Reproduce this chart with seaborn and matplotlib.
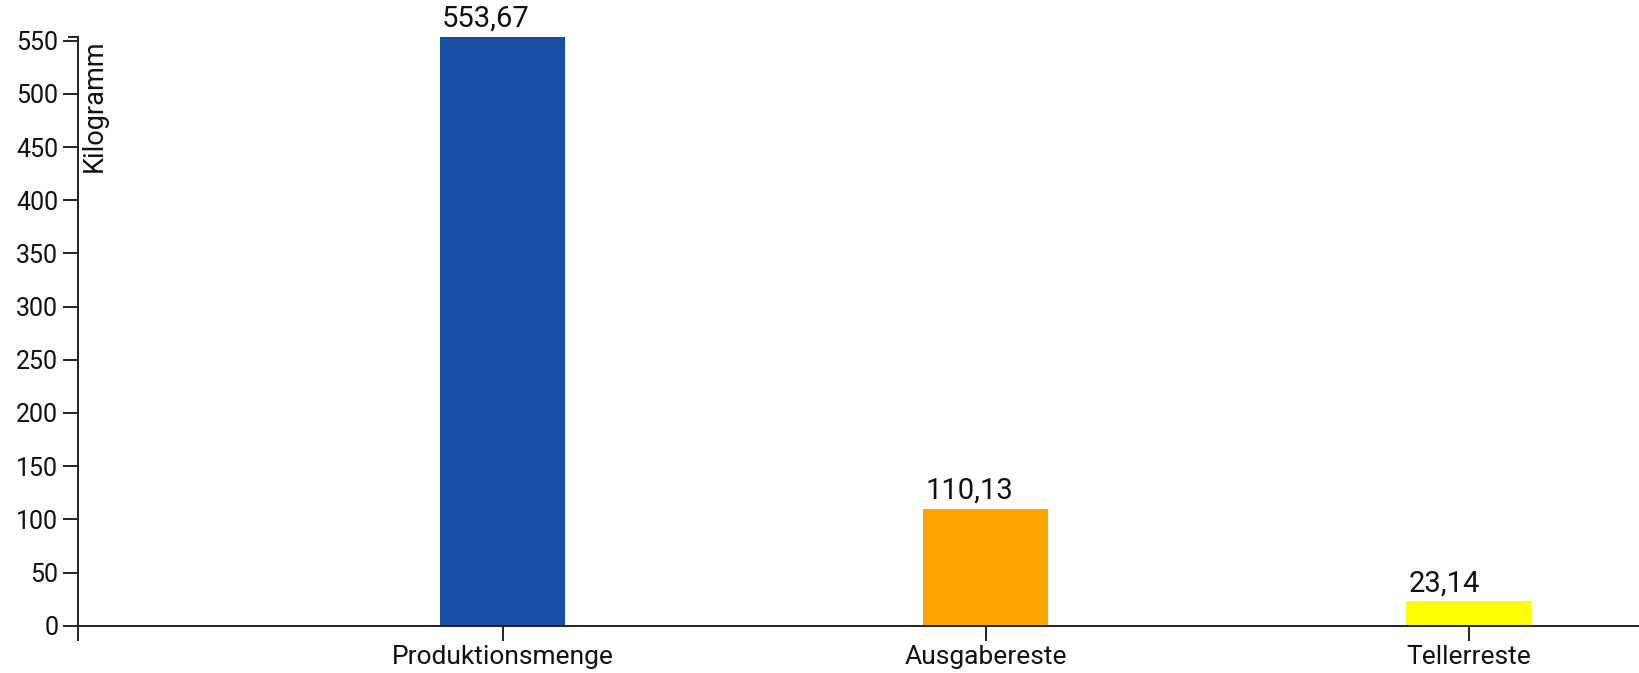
import matplotlib
matplotlib.use("Agg")
import matplotlib.pyplot as plt
import seaborn as sns
import pandas as pd

categories = ["Produktionsmenge", "Ausgabereste", "Tellerreste"]
values = [553.67, 110.13, 23.14]
value_labels = ["553,67", "110,13", "23,14"]
colors = ["#184ea3", "#ffa500", "#ffff00"]
y_ticks = [0, 50, 100, 150, 200, 250, 300, 350, 400, 450, 500, 550]
y_label = "Kilogramm"

sns.set_theme(style="white")
plt.rcParams["font.family"] = ["Roboto", "DejaVu Sans"]
plt.rcParams["text.color"] = "#111111"

df = pd.DataFrame({"cat": categories, "val": values})
fig = plt.figure(figsize=(16.4, 6.73), dpi=100)
ax = fig.add_axes([0.04774, 0.0703, 0.95226, 0.875])
sns.barplot(data=df, x="cat", y="val", hue="cat", palette=colors, width=0.2587,
            legend=False, ax=ax, saturation=1, linewidth=0)
ax.set_xlim(-0.878, 2.354)
ax.set_ylim(0, max(values))
ax.set_yticks(y_ticks)
ax.set_yticks([max(values)], minor=True)
ax.set_xticks([-0.878], minor=True)
ax.set_xlabel("")
ax.set_ylabel("")

for side in ["top", "right"]:
    ax.spines[side].set_visible(False)
for side in ["left", "bottom"]:
    ax.spines[side].set_color("#222222")
    ax.spines[side].set_linewidth(1.4)

ax.tick_params(axis="both", which="both", length=10.5, width=1.4, color="#222222",
               direction="out", left=True, bottom=True)
ax.tick_params(axis="y", which="major", labelsize=18, pad=4, labelcolor="#111111")
ax.tick_params(axis="x", which="major", labelsize=19, pad=3.5, labelcolor="#111111")
ax.tick_params(axis="y", which="minor", length=7)
ax.tick_params(which="minor", labelleft=False, labelbottom=False)

for patch, lab in zip(ax.patches, value_labels):
    ax.annotate(lab, (patch.get_x(), patch.get_height()), xytext=(1.5, 7),
                textcoords="offset points", ha="left", va="baseline",
                fontsize=21, color="#111111", annotation_clip=False)

fig.text(81 / 1640, 1 - 40 / 673, y_label, rotation=90, ha="left", va="top",
         fontsize=19.5, color="#111111")

fig.savefig("out.png", dpi=100)
